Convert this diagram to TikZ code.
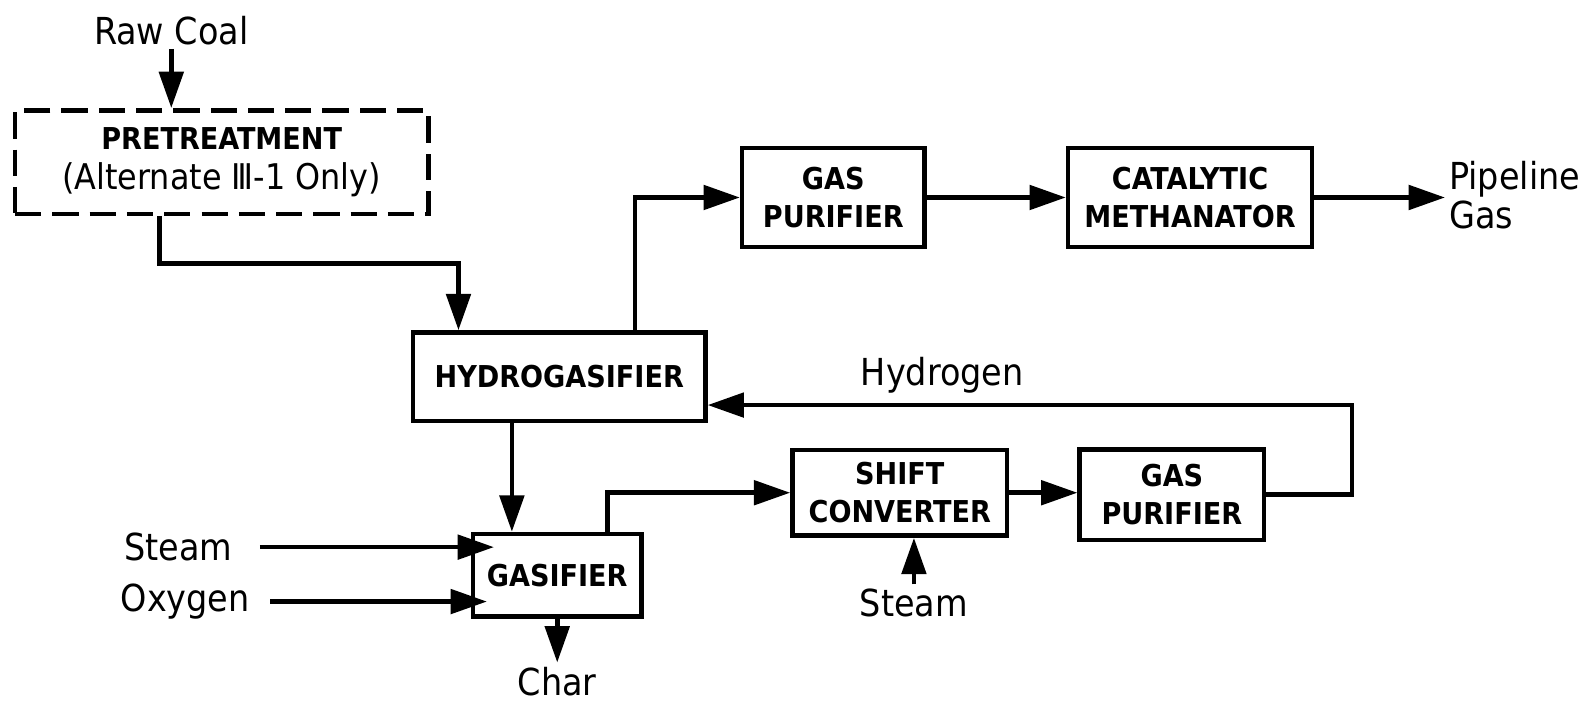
\documentclass[tikz,border=0pt]{standalone}
\usepackage{fontspec}
\setmainfont{DejaVu Sans Condensed}
\usepackage{tikz}
\usetikzlibrary{positioning,arrows.meta}

\begin{document}
\begin{tikzpicture}[
  x = 0.1mm, y = -0.1mm,
  unit/.style  = {rectangle, draw, line width=1.3pt, align=center, inner sep=2pt,
                  font=\fontsize{8.5}{10.8}\selectfont\bfseries},
  pre/.style   = {unit, dash pattern=on 2.6mm off 1.1mm, font=\fontsize{8.5}{11.5}\selectfont},
  feed/.style  = {inner sep=1pt, font=\fontsize{10.5}{11}\selectfont},
  arr/.style   = {-{Triangle[length=3.6mm, width=2.4mm]}, line width=1.3pt}
]
\useasboundingbox (0,0) rectangle (1568,699);
% process units
\node[pre,  minimum width=41mm,   minimum height=10.3mm] (pretreat) at (220,161)
  {\textbf{PRETREATMENT}\\{\fontsize{10}{11}\selectfont(Alternate Ⅲ-1 Only)}};
\node[unit, minimum width=29mm,   minimum height=8.8mm]  (hydro)    at (555,374) {HYDROGASIFIER};
\node[unit, minimum width=18.1mm, minimum height=9.8mm]  (purA)     at (827,196) {GAS\\PURIFIER};
\node[unit, minimum width=24.2mm, minimum height=9.8mm]  (meth)     at (1181,196) {CATALYTIC\\METHANATOR};
\node[unit, minimum width=16.7mm, minimum height=8.2mm]  (gasif)    at (553,571) {GASIFIER};
\node[unit, minimum width=21.3mm, minimum height=8.5mm]  (shift)    at (893,489) {SHIFT\\CONVERTER};
\node[unit, minimum width=18.3mm, minimum height=9mm]    (purB)     at (1163,491) {GAS\\PURIFIER};
% feeds and products
\node[feed] (coal)   at (170,30)  {Raw Coal};
\node[feed, anchor=west, align=left] (pipe) at (1434,194) {Pipeline\\Gas};
\node[feed] (hlabel) at (935,372) {Hydrogen};
\node[feed, anchor=east] (steamA) at (235,543) {Steam};
\node[feed, anchor=east] (oxy)    at (252,597) {Oxygen};
\node[feed] (charout) at (553,676) {Char};
\node[feed] (steamB)  at (907,598) {Steam};
% streams
\draw[arr] (coal.south) -- (coal.south |- pretreat.north);
\draw[arr] ([xshift=-6.2mm]pretreat.south) -- ++(0,47) -| ([xshift=-10mm]hydro.north);
\draw[arr] ([xshift=7.5mm]hydro.north) |- (purA.west);
\draw[arr] (purA) -- (meth);
\draw[arr] (meth.east) -- (meth.east -| pipe.west);
\draw[arr] ([xshift=-4.7mm]hydro.south) -- ([xshift=-4.7mm]hydro.south |- gasif.north);
\draw[arr] ([xshift=2.3mm]steamA.east) -- ([xshift=2.3mm]steamA.east -| gasif.west);
\draw[arr] ([xshift=1.6mm]oxy.east) -- ([xshift=1.6mm]oxy.east -| gasif.west);
\draw[arr] (gasif.south) -- (gasif.south |- charout.north);
\draw[arr] ([xshift=5mm]gasif.north) |- (shift.west);
\draw[arr] (shift.east) -- (shift.east -| purB.west);
\draw[arr] (purB.east) -- ++(85,0) |- ([yshift=-2.8mm]hydro.east);
\draw[arr] (steamB.north) -- (steamB.north |- shift.south);
\end{tikzpicture}
\end{document}
